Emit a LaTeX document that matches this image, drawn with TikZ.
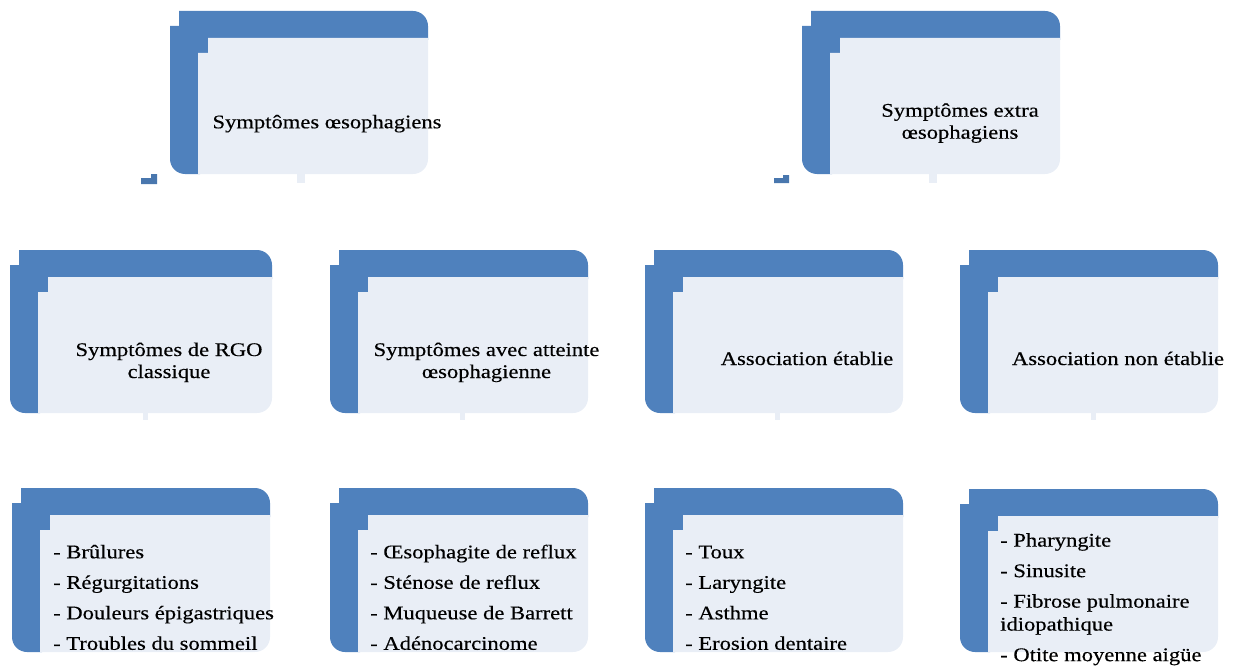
\documentclass[tikz,border=0pt]{standalone}
\usepackage{fontspec}
\setmainfont{Liberation Serif}[FakeStretch=1.17,FakeBold=0.35]
\definecolor{bluec}{HTML}{4F81BD}
\definecolor{lightc}{HTML}{E9EEF6}
\newcommand\smpanel[4]{%
\begin{scope}[shift={(#1,#2)}]
\fill[bluec] (9,0) -- (#3-15,0) .. controls (#3-6.7,0) and (#3,6.7) .. (#3,15) -- (#3,29)
  -- (40,29) -- (40,44) -- (30,44) -- (30,#4) -- (15,#4)
  .. controls (6.7,#4) and (0,#4-6.7) .. (0,#4-15) -- (0,15) -- (9,15) -- cycle;
\fill[lightc] (38,27) -- (#3,27) -- (#3,#4-15) .. controls (#3,#4-6.7) and (#3-6.7,#4) .. (#3-15,#4)
  -- (28,#4) -- (28,42) -- (38,42) -- cycle;
\end{scope}}
\tikzset{
  lbl/.style={anchor=base, inner sep=0pt, font=\fontsize{19.3}{22}\selectfont},
  lst/.style={anchor=base west, inner sep=0pt, font=\fontsize{19.3}{23}\selectfont},
  tick/.style={fill=lightc},
  bracket/.style={fill=bluec!92!black}
}
\begin{document}
\begin{tikzpicture}[x=1pt,y=-1pt]
\useasboundingbox (0,0) rectangle (1234,669);
% top row
\smpanel{170}{11}{258}{163}
\smpanel{802}{11}{258}{163}
% second row
\smpanel{10}{250}{262}{163}
\smpanel{330}{250}{258}{163}
\smpanel{645}{250}{258}{163}
\smpanel{960}{250}{258}{163}
% third row
\smpanel{12}{488}{258}{164}
\smpanel{330}{488}{258}{164}
\smpanel{645}{488}{258}{164}
\smpanel{960}{489}{258}{163}
% connector remnants
\fill[bracket] (151,174) -- (157,174) -- (157,184) -- (141,184) -- (141,178) -- (151,178) -- cycle;
\fill[bracket] (783,175) -- (789,175) -- (789,183) -- (774,183) -- (774,178) -- (783,178) -- cycle;
\fill[tick] (297,174) rectangle (305,183);
\fill[tick] (929,174) rectangle (937,183);
\fill[tick] (143,413) rectangle (148,420);
\fill[tick] (460,413) rectangle (465,420);
\fill[tick] (775,413) rectangle (780,420);
\fill[tick] (1091,413) rectangle (1096,420);
% texts
\node[lbl] (oeso) at (327,128.3) {Symptômes œsophagiens};
\node[lbl] (extra) at (960,116.7) {\begin{tabular}[t]{@{}c@{}}Symptômes extra\\œsophagiens\end{tabular}};
\node[lbl] (rgo) at (169,356) {\begin{tabular}[t]{@{}c@{}}Symptômes de RGO\\classique\end{tabular}};
\node[lbl] (atteinte) at (486.5,356) {\begin{tabular}[t]{@{}c@{}}Symptômes avec atteinte\\œsophagienne\end{tabular}};
\node[lbl] (etablie) at (807,365) {Association établie};
\node[lbl] (nonetablie) at (1118,365) {Association non établie};
\node[lst] (l1) at (53,558.3) {\begin{tabular}[t]{@{}l@{}}- Brûlures\\[7.5pt]- Régurgitations\\[7.5pt]- Douleurs épigastriques\\[7.5pt]- Troubles du sommeil\end{tabular}};
\node[lst] (l2) at (370,558.3) {\begin{tabular}[t]{@{}l@{}}- Œsophagite de reflux\\[7.5pt]- Sténose de reflux\\[7.5pt]- Muqueuse de Barrett\\[7.5pt]- Adénocarcinome\end{tabular}};
\node[lst] (l3) at (685,558.3) {\begin{tabular}[t]{@{}l@{}}- Toux\\[7.5pt]- Laryngite\\[7.5pt]- Asthme\\[7.5pt]- Erosion dentaire\end{tabular}};
\node[lst] (l4) at (1000,546.6) {\begin{tabular}[t]{@{}l@{}}- Pharyngite\\[7.5pt]- Sinusite\\[7.5pt]- Fibrose pulmonaire\\idiopathique\\[7.5pt]- Otite moyenne aigüe\end{tabular}};
\end{tikzpicture}
\end{document}
